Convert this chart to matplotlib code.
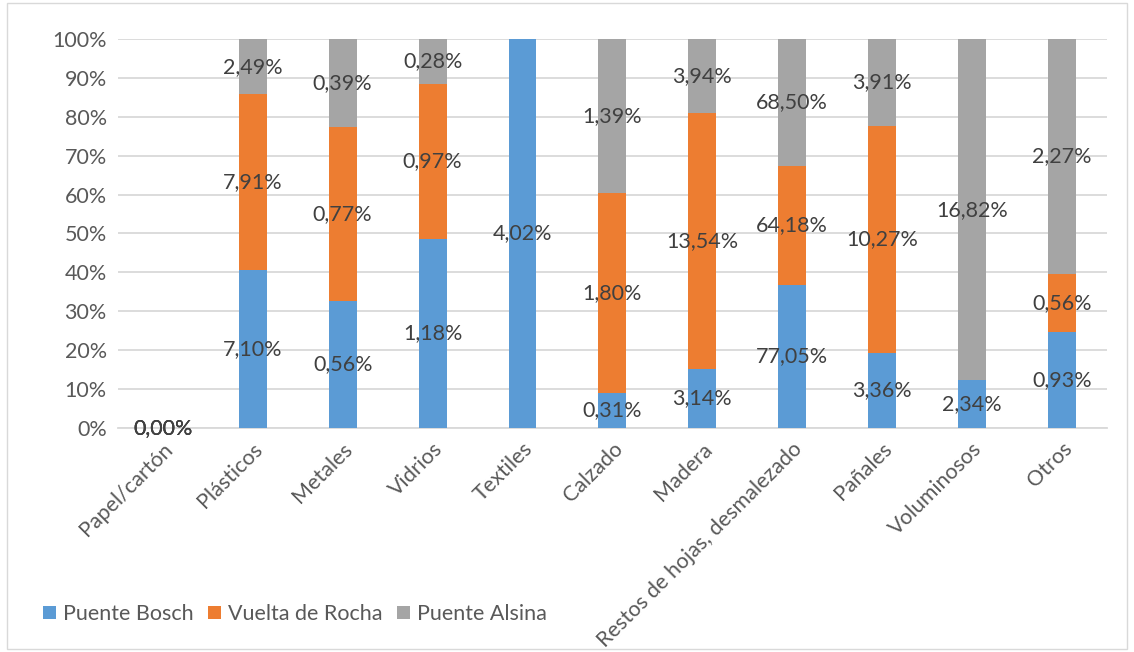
import numpy as np
import matplotlib.pyplot as plt
from matplotlib.patches import Rectangle

plt.rcParams['font.family'] = ['Lato', 'DejaVu Sans']

# categories and raw values shown as data labels (nan = no value)
categories = ['Papel/cartón', 'Plásticos', 'Metales', 'Vidrios', 'Textiles', 'Calzado',
              'Madera', 'Restos de hojas, desmalezado', 'Pañales', 'Voluminosos', 'Otros']
puente_bosch = [0.00, 7.10, 0.56, 1.18, 4.02, 0.31, 3.14, 77.05, 3.36, 2.34, 0.93]
vuelta_rocha = [0.00, 7.91, 0.77, 0.97, np.nan, 1.80, 13.54, 64.18, 10.27, np.nan, 0.56]
puente_alsina = [0.00, 2.49, 0.39, 0.28, np.nan, 1.39, 3.94, 68.50, 3.91, 16.82, 2.27]

series = [('Puente Bosch', puente_bosch, '#5B9BD5'),
          ('Vuelta de Rocha', vuelta_rocha, '#ED7D31'),
          ('Puente Alsina', puente_alsina, '#A5A5A5')]

raw = np.array([s[1] for s in series], dtype=float)
vals = np.nan_to_num(raw)
totals = vals.sum(axis=0)
totals[totals == 0] = 1
share = vals / totals * 100

fig = plt.figure(figsize=(11.34, 6.52), dpi=100)
ax = fig.add_axes([0.104, 0.344, 0.872, 0.596])

x = np.arange(len(categories))
bottom = np.zeros(len(categories))
txt_col = '#404040'
for i, (name, v, col) in enumerate(series):
    ax.bar(x, share[i], 0.31, bottom=bottom, color=col, label=name, zorder=3)
    for j in range(len(categories)):
        if np.isnan(raw[i, j]):
            continue
        lab = f"{raw[i, j]:.2f}%".replace('.', ',')
        ax.text(x[j], bottom[j] + share[i, j] / 2, lab, ha='center', va='center',
                fontsize=15.5, color=txt_col, zorder=4)
    bottom += share[i]

ax.set_xlim(-0.5, len(categories) - 0.5)
ax.set_ylim(0, 100)
ax.set_yticks(np.arange(0, 101, 10))
ax.set_yticklabels([f"{t}%" for t in range(0, 101, 10)])
ax.yaxis.grid(True, color='#D9D9D9', linewidth=1.3, zorder=0)
ax.set_axisbelow(True)
for s in ['top', 'right', 'left']:
    ax.spines[s].set_visible(False)
ax.spines['bottom'].set_color('#D9D9D9')
ax.spines['bottom'].set_linewidth(1.3)
ax.tick_params(axis='both', length=0, labelsize=15.5, labelcolor='#595959', pad=8)
ax.set_xticks(x)
ax.set_xticklabels(categories, rotation=45, ha='right', rotation_mode='anchor')

ax.legend(loc='lower left', bbox_to_anchor=(-0.095, -0.555), ncol=3, frameon=False,
          fontsize=15.5, handlelength=0.6, handleheight=0.6, handletextpad=0.3,
          columnspacing=0.7, labelcolor='#595959')

fig.patches.append(Rectangle((0.006, 0.005), 0.988, 0.99, transform=fig.transFigure,
                             fill=False, edgecolor='#D9D9D9', linewidth=1))

fig.savefig('out.png', dpi=100)
